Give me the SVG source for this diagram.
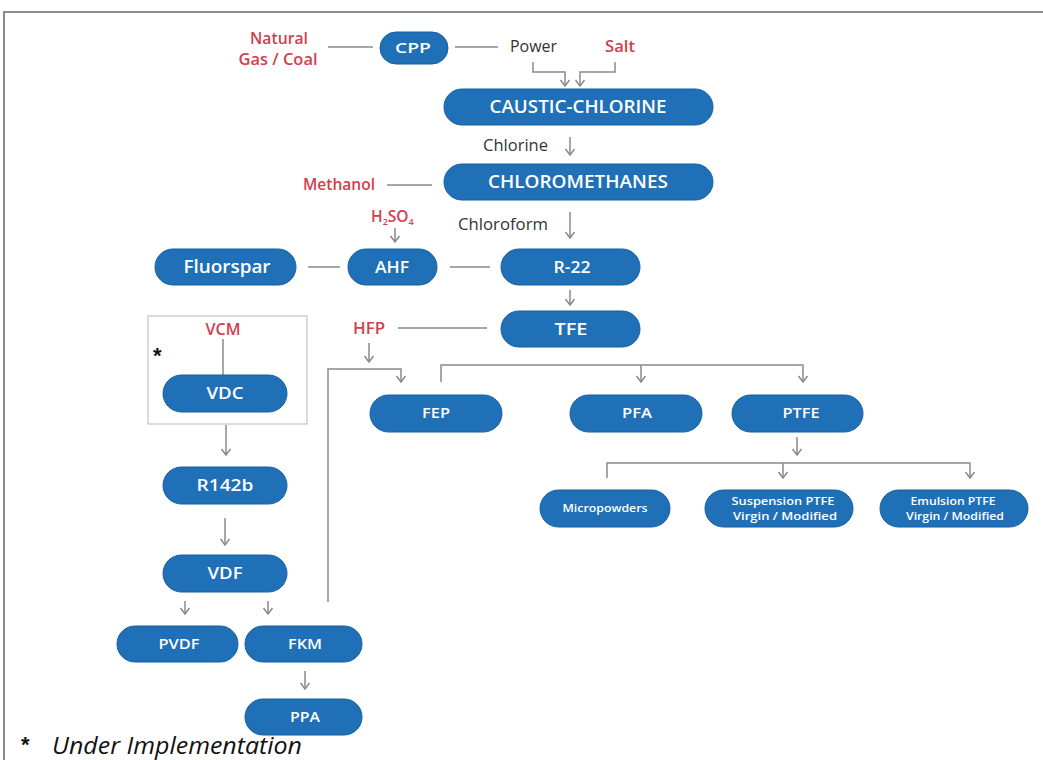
<svg xmlns="http://www.w3.org/2000/svg" width="1043" height="760" viewBox="0 0 1043 760">
<style>
.pill{fill:#1f70b7;stroke:#16609e;stroke-width:1}
.nt{font-family:"Open Sans","Liberation Sans",sans-serif;font-weight:600;fill:#ffffff;text-anchor:middle}
.lbl{font-family:"Open Sans","Liberation Sans",sans-serif;font-size:15.5px;font-weight:500;fill:#333333}
.red{font-family:"Open Sans","Liberation Sans",sans-serif;font-size:15.5px;font-weight:600;fill:#d2404c}
.ln{fill:none;stroke:#8a8a8a;stroke-width:1.5}
.ar{fill:none;stroke:#8a8a8a;stroke-width:1.5;marker-end:url(#chev)}
</style>
<defs>
<marker id="chev" viewBox="-1 -6 9 12" refX="6" refY="0" markerWidth="9" markerHeight="12" markerUnits="userSpaceOnUse" orient="auto">
<path d="M0,-4.5 L6,0 L0,4.5" fill="none" stroke="#8a8a8a" stroke-width="1.5"/>
</marker>
</defs>
<rect width="1043" height="760" fill="#ffffff"/>
<path d="M4,760 V12 H1043" fill="none" stroke="#8c8c8c" stroke-width="2"/>

<g id="connectors">
<line class="ln" x1="328" y1="47" x2="373" y2="47"/>
<line class="ln" x1="455" y1="47" x2="498" y2="47"/>
<path class="ar" d="M533,62 V72 H565 V86"/>
<path class="ar" d="M615,62 V72 H580 V86"/>
<line class="ar" x1="570" y1="137" x2="570" y2="155"/>
<line class="ln" x1="387" y1="185" x2="432" y2="185"/>
<line class="ar" x1="570" y1="212" x2="570" y2="238"/>
<line class="ar" x1="395" y1="228" x2="395" y2="242"/>
<line class="ln" x1="308" y1="267" x2="340" y2="267"/>
<line class="ln" x1="450" y1="267" x2="490" y2="267"/>
<line class="ar" x1="570" y1="290" x2="570" y2="305"/>
<line class="ln" x1="398" y1="328" x2="487" y2="328"/>
<line class="ar" x1="369" y1="343" x2="369" y2="362"/>
<path class="ar" d="M328,602 V369 H401 V382"/>
<path class="ar" d="M441,382 V365 H803 V382"/>
<line class="ar" x1="641" y1="365" x2="641" y2="382"/>
<line class="ar" x1="797" y1="437" x2="797" y2="455"/>
<path class="ar" d="M607,478 V463 H970 V478"/>
<line class="ar" x1="783" y1="463" x2="783" y2="478"/>
<rect x="148" y="316" width="159" height="108" fill="none" stroke="#c4c4c4" stroke-width="1.2"/>
<line class="ln" x1="223" y1="339" x2="223" y2="375"/>
<line class="ar" x1="226" y1="425" x2="226" y2="455"/>
<line class="ar" x1="225" y1="518" x2="225" y2="545"/>
<line class="ar" x1="185" y1="601" x2="185" y2="614"/>
<line class="ar" x1="268" y1="601" x2="268" y2="614"/>
<line class="ar" x1="305" y1="671" x2="305" y2="689"/>
</g>

<g id="inputs">
<text class="red" x="279" y="44" text-anchor="middle" font-size="13.5" textLength="58" lengthAdjust="spacingAndGlyphs">Natural</text>
<text class="red" x="278" y="65" text-anchor="middle" font-size="13.5" textLength="79" lengthAdjust="spacingAndGlyphs">Gas / Coal</text>
<text class="lbl" x="510" y="52" textLength="47" lengthAdjust="spacingAndGlyphs">Power</text>
<text class="red" x="605" y="52" textLength="30" lengthAdjust="spacingAndGlyphs">Salt</text>
<text class="lbl" x="483" y="151" textLength="65" lengthAdjust="spacingAndGlyphs">Chlorine</text>
<text class="red" x="303" y="190" textLength="72" lengthAdjust="spacingAndGlyphs">Methanol</text>
<text class="lbl" x="458" y="230" textLength="90" lengthAdjust="spacingAndGlyphs">Chloroform</text>
<text class="red" x="371" y="222" font-size="14">H<tspan font-size="9" dy="3">2</tspan><tspan dy="-3">SO</tspan><tspan font-size="9" dy="3">4</tspan></text>
<text class="red" x="353" y="334" textLength="32" lengthAdjust="spacingAndGlyphs">HFP</text>
<text class="red" x="223" y="335" text-anchor="middle" textLength="35" lengthAdjust="spacingAndGlyphs">VCM</text>
<text x="153" y="363" font-family="'Liberation Sans',sans-serif" font-size="22" font-weight="bold" fill="#111">*</text>
</g>

<g id="cpp"><rect class="pill" x="380" y="32" width="68" height="32" rx="16"/><text class="nt" x="413" y="53" font-size="15" textLength="36" lengthAdjust="spacingAndGlyphs">CPP</text></g>
<g id="caustic"><rect class="pill" x="444" y="89" width="269" height="36" rx="18"/><text class="nt" x="578" y="113" font-size="17.5" textLength="177" lengthAdjust="spacingAndGlyphs">CAUSTIC-CHLORINE</text></g>
<g id="chloromethanes"><rect class="pill" x="444" y="164" width="269" height="36" rx="18"/><text class="nt" x="578" y="188" font-size="17.5" textLength="180" lengthAdjust="spacingAndGlyphs">CHLOROMETHANES</text></g>
<g id="fluorspar"><rect class="pill" x="155" y="249" width="141" height="36" rx="18"/><text class="nt" x="227" y="273" font-size="18" textLength="87" lengthAdjust="spacingAndGlyphs">Fluorspar</text></g>
<g id="ahf"><rect class="pill" x="348" y="249" width="89" height="36" rx="18"/><text class="nt" x="392" y="273" font-size="16" textLength="34" lengthAdjust="spacingAndGlyphs">AHF</text></g>
<g id="r22"><rect class="pill" x="501" y="249" width="139" height="36" rx="18"/><text class="nt" x="572" y="273" font-size="16" textLength="37" lengthAdjust="spacingAndGlyphs">R-22</text></g>
<g id="tfe"><rect class="pill" x="501" y="311" width="139" height="36" rx="18"/><text class="nt" x="571" y="335" font-size="16" textLength="33" lengthAdjust="spacingAndGlyphs">TFE</text></g>
<g id="fep"><rect class="pill" x="370" y="395" width="132" height="37" rx="18.5"/><text class="nt" x="436" y="418" font-size="14" textLength="28" lengthAdjust="spacingAndGlyphs">FEP</text></g>
<g id="pfa"><rect class="pill" x="570" y="395" width="132" height="37" rx="18.5"/><text class="nt" x="637" y="418" font-size="14" textLength="30" lengthAdjust="spacingAndGlyphs">PFA</text></g>
<g id="ptfe"><rect class="pill" x="732" y="395" width="131" height="37" rx="18.5"/><text class="nt" x="801" y="418" font-size="14" textLength="37" lengthAdjust="spacingAndGlyphs">PTFE</text></g>
<g id="micropowders"><rect class="pill" x="540" y="490" width="130" height="37" rx="18.5"/><text class="nt" x="605" y="512" font-size="11.5" textLength="85" lengthAdjust="spacingAndGlyphs">Micropowders</text></g>
<g id="suspension"><rect class="pill" x="705" y="490" width="148" height="37" rx="18.5"/><text class="nt" x="783" y="505" font-size="11.5" textLength="103" lengthAdjust="spacingAndGlyphs">Suspension PTFE</text><text class="nt" x="785" y="520" font-size="11.5" textLength="104" lengthAdjust="spacingAndGlyphs">Virgin / Modified</text></g>
<g id="emulsion"><rect class="pill" x="880" y="490" width="148" height="37" rx="18.5"/><text class="nt" x="953" y="505" font-size="11.5" textLength="85" lengthAdjust="spacingAndGlyphs">Emulsion PTFE</text><text class="nt" x="955" y="520" font-size="11.5" textLength="98" lengthAdjust="spacingAndGlyphs">Virgin / Modified</text></g>
<g id="vdc"><rect class="pill" x="163" y="375" width="124" height="37" rx="18.5"/><text class="nt" x="225" y="399" font-size="17" textLength="37" lengthAdjust="spacingAndGlyphs">VDC</text></g>
<g id="r142b"><rect class="pill" x="163" y="467" width="124" height="37" rx="18.5"/><text class="nt" x="225" y="491" font-size="17" textLength="57" lengthAdjust="spacingAndGlyphs">R142b</text></g>
<g id="vdf"><rect class="pill" x="163" y="555" width="124" height="37" rx="18.5"/><text class="nt" x="225" y="579" font-size="17" textLength="35" lengthAdjust="spacingAndGlyphs">VDF</text></g>
<g id="pvdf"><rect class="pill" x="117" y="626" width="121" height="36" rx="18"/><text class="nt" x="179" y="649" font-size="14" textLength="41" lengthAdjust="spacingAndGlyphs">PVDF</text></g>
<g id="fkm"><rect class="pill" x="245" y="626" width="117" height="36" rx="18"/><text class="nt" x="305" y="649" font-size="14" textLength="34" lengthAdjust="spacingAndGlyphs">FKM</text></g>
<g id="ppa"><rect class="pill" x="245" y="699" width="117" height="36" rx="18"/><text class="nt" x="305" y="722" font-size="14" textLength="30" lengthAdjust="spacingAndGlyphs">PPA</text></g>

<g id="legend">
<text x="21" y="752" font-family="'Liberation Sans',sans-serif" font-size="22" font-weight="bold" fill="#111">*</text>
<text x="52" y="754" font-family="'Open Sans','Liberation Sans',sans-serif" font-size="23" font-style="italic" fill="#111" textLength="250" lengthAdjust="spacingAndGlyphs">Under Implementation</text>
</g>
</svg>
